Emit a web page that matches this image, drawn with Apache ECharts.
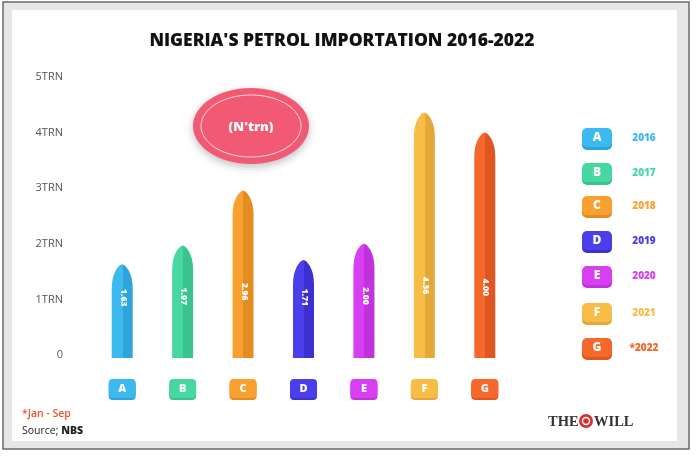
<!DOCTYPE html>
<html><head><meta charset="utf-8">
<script src="https://cdn.jsdelivr.net/npm/echarts@6/dist/echarts.min.js"></script>
<style>html,body{margin:0;padding:0;background:#fff}#c{width:696px;height:456px}</style>
</head><body><div id="c"></div>
<script>
const categories = ['A','B','C','D','E','F','G'];
const years = ['2016','2017','2018','2019','2020','2021','*2022'];
const values = [1.63, 1.97, 2.96, 1.71, 2.00, 4.36, 4.00];
const valueLabels = ['1.63','1.97','2.96','1.71','2.00','4.36','4.00'];
const yTickLabels = ['0','1TRN','2TRN','3TRN','4TRN','5TRN'];
const lightColors = ['#3cb9ef','#47d8a2','#f9a031','#4b3feb','#d83ff2','#f8bd46','#f6672b'];
const darkColors  = ['#2ea4dd','#3bc38f','#e38c22','#3c31d0','#c132da','#e3a938','#df5620'];

const chart = echarts.init(document.getElementById('c'));
const FONT = 'Open Sans';

const rich = {};
categories.forEach((c,i)=>{
  rich['c'+i] = {backgroundColor: lightColors[i], color:'#fff', fontFamily: FONT, fontWeight: 800,
    fontSize: 11, width: 27, height: 19, align:'center', borderRadius: 4,
    shadowColor: darkColors[i], shadowOffsetY: 2, shadowBlur: 0};
});

const graphics = [
  {type:'rect', shape:{x:3,y:2,width:686,height:447}, style:{fill:'#e6e6e6', stroke:'#6a6a6a', lineWidth:1.5}, z:-10},
  {type:'rect', shape:{x:12,y:10,width:665,height:431}, style:{fill:'#ffffff'}, z:-9},
  {type:'ellipse', shape:{cx:251,cy:126,rx:58,ry:38}, style:{fill:'#f25a74', shadowBlur:8, shadowColor:'rgba(0,0,0,0.25)', shadowOffsetY:3}},
  {type:'ellipse', shape:{cx:251,cy:126,rx:50,ry:31}, style:{fill:'none', stroke:'rgba(255,255,255,0.75)', lineWidth:1}},
  {type:'text', x:251, y:127, style:{text:"(N'trn)", fill:'#fff', font:'800 13px "Open Sans"', align:'center', verticalAlign:'middle'}},
  {type:'text', x:22, y:414, style:{text:'*Jan - Sep', fill:'#f0512e', font:'600 10.5px "Open Sans"', verticalAlign:'middle'}},
  {type:'text', x:22, y:431, style:{rich:{a:{font:'400 10.5px "Open Sans"', fill:'#222'}, b:{font:'800 10.5px "Open Sans"', fill:'#222'}}, text:'{a|Source; }{b|NBS}', verticalAlign:'middle'}},
  {type:'text', x:548, y:422, style:{text:'THE', fill:'#333', font:'bold 14.5px "Liberation Serif"', verticalAlign:'middle'}},
  {type:'circle', shape:{cx:586,cy:421,r:7}, style:{fill:'#d8302e'}},
  {type:'circle', shape:{cx:586,cy:421,r:3.5}, style:{fill:'none', stroke:'#fff', lineWidth:1.5}},
  {type:'text', x:594, y:422, style:{text:'WILL', fill:'#333', font:'bold 14.5px "Liberation Serif"', verticalAlign:'middle'}}
];
const legendY = [137,172,205,240,275,312,347];
categories.forEach((c,i)=>{
  const cy = legendY[i];
  graphics.push({type:'rect', shape:{x:582,y:cy-9,width:30,height:19,r:5}, style:{fill:lightColors[i], shadowColor:darkColors[i], shadowOffsetY:3}});
  graphics.push({type:'text', x:597, y:cy+0.5, style:{text:c, fill:'#fff', font:'800 12px "Open Sans"', align:'center', verticalAlign:'middle'}});
  graphics.push({type:'text', x:644, y:cy+1, style:{text:years[i], fill:lightColors[i], font:'800 10px "Open Sans"', align:'center', verticalAlign:'middle'}});
});

chart.setOption({
  animation:false,
  title:{text:"NIGERIA'S PETROL IMPORTATION 2016-2022", left:337, textAlign:'center', top:27,
    textStyle:{fontFamily:FONT, fontWeight:800, fontSize:17.5, color:'#111'}},
  grid:{left:92, width:423, top:77, bottom:101},
  xAxis:{type:'category', data:categories, axisLine:{show:false}, axisTick:{show:false},
    axisLabel:{margin:24, formatter:(v,i)=>'{c'+i+'|'+v+'}', rich:rich}},
  yAxis:{type:'value', min:0, max:5, interval:1, splitLine:{show:false}, axisLine:{show:false}, axisTick:{show:false},
    axisLabel:{margin:29, color:'#555', fontFamily:FONT, fontSize:11, formatter:(v)=>yTickLabels[Math.round(v)]}},
  graphic:graphics,
  series:[{
    type:'custom',
    data: values.map((v,i)=>[i,v]),
    renderItem:(params, api)=>{
      const i = api.value(0), v = api.value(1);
      const top = api.coord([i, v]);
      const base = api.coord([i, 0]);
      const w = 21;
      const l = top[0]-w/2, r = top[0]+w/2, cx = top[0];
      const tip = 24;
      const path = `M${l},${base[1]+3} L${l},${top[1]+tip} C${l},${top[1]+8} ${cx-3},${top[1]} ${cx},${top[1]} C${cx+3},${top[1]} ${r},${top[1]+8} ${r},${top[1]+tip} L${r},${base[1]+3} Z`;
      const lab = api.coord([i, 0.9 + v*0.08]);
      return {type:'group', children:[
        {type:'path', shape:{pathData:path}, style:{fill:{type:'linear',x:0,y:0,x2:1,y2:0,colorStops:[
          {offset:0,color:lightColors[i]},{offset:0.52,color:lightColors[i]},{offset:0.52,color:darkColors[i]},{offset:1,color:darkColors[i]}]}}},
        {type:'text', x:cx+1, y:lab[1], rotation:-Math.PI/2, style:{text:valueLabels[i], fill:'#fff', font:'800 8.5px "Open Sans"', align:'center', verticalAlign:'middle'}}
      ]};
    }
  }]
});
</script></body></html>
